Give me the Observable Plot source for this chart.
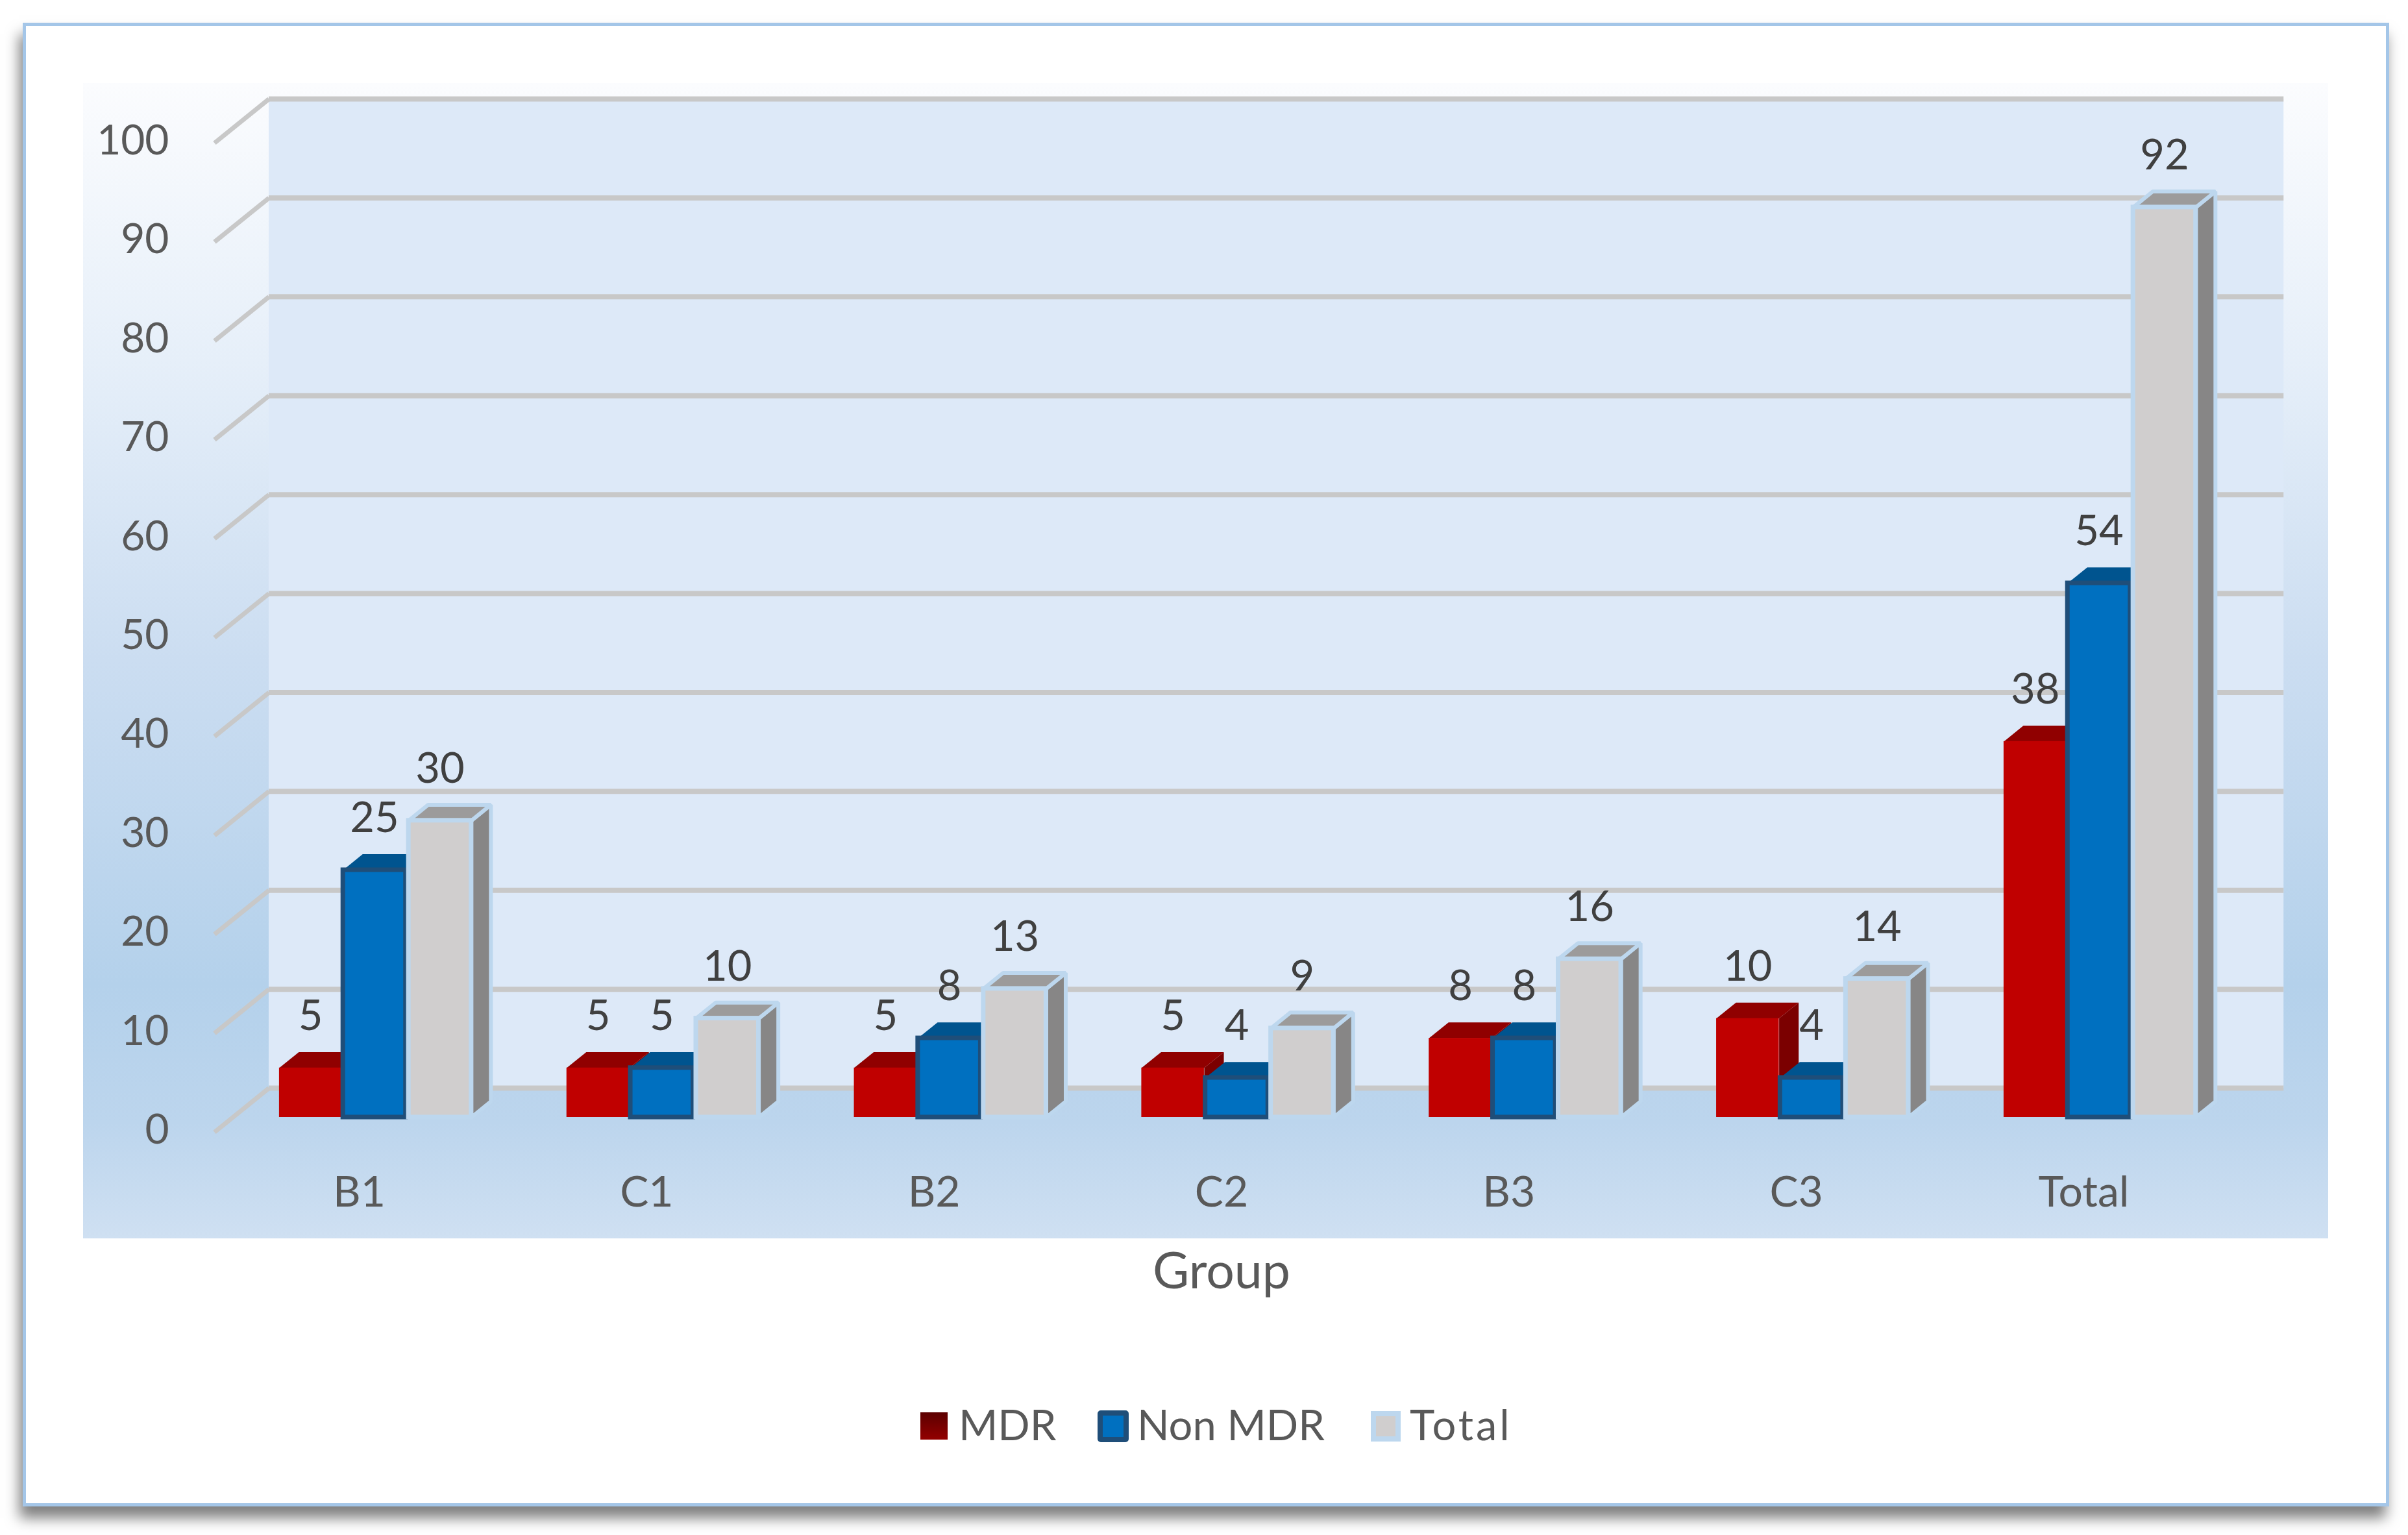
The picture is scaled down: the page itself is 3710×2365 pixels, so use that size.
<!DOCTYPE html>
<html>
<head>
<meta charset="utf-8">
<script src="https://cdn.jsdelivr.net/npm/d3@7"></script>
<script src="https://cdn.jsdelivr.net/npm/@observablehq/plot@0.6"></script>
<style>
  html,body{margin:0;padding:0;background:#fff;}
  #page{position:relative;width:3710px;height:2365px;overflow:hidden;font-family:Lato,sans-serif;}
  #card{position:absolute;left:35px;top:35px;width:3636px;height:2276px;background:#fff;border:5px solid #a4c6e8;
    box-shadow:-5px 18px 20px rgba(0,0,0,.5);}
  #panel{position:absolute;left:128px;top:128px;width:3459px;height:1780px;
    background:linear-gradient(180deg,#fbfcfe 0%,#e6eff9 24%,#cbddf1 50%,#b4d1eb 78%,#bcd5ed 90%,#cfe0f2 100%);}
  #chart{position:absolute;left:0;top:0;}
  .lg{position:absolute;top:2154px;font-size:65px;line-height:80px;color:#595959;white-space:nowrap;}
  .sw{position:absolute;box-sizing:border-box;}
</style>
</head>
<body>
<div id="page">
  <div id="card"></div>
  <div id="panel"></div>
  <div id="chart"></div>
  <div class="sw" style="left:1418px;top:2176px;width:42px;height:42px;background:linear-gradient(180deg,#5c0000,#930000);"></div>
  <div class="lg" id="lg0" style="left:1477px"></div>
  <div class="sw" style="left:1691px;top:2173px;width:48px;height:49px;background:#0070c0;border:8px solid #1f4e79;border-radius:5px;"></div>
  <div class="lg" id="lg1" style="left:1752px"></div>
  <div class="sw" style="left:2112px;top:2174px;width:46px;height:47px;background:#d0cece;border:8px solid #bdd7ee;"></div>
  <div class="lg" id="lg2" style="left:2172px;letter-spacing:4px"></div>
</div>
<script>
const categories = ["B1","C1","B2","C2","B3","C3","Total"];
const seriesNames = ["MDR","Non MDR","Total"];
const mdr = [5,5,5,5,8,10,38];
const nonMdr = [25,5,8,4,8,4,54];
const total = [30,10,13,9,16,14,92];
const yTicks = [0,10,20,30,40,50,60,70,80,90,100];

// look of each series, and the offset of its bar inside a group (in category units)
const seriesStyle = [
  {values:mdr,    start:-0.278, front:"#c00000", top:"#900000", side:"#7b0000", stroke:"none",    sw:0},
  {values:nonMdr, start:-0.056, front:"#0070c0", top:"#00548f", side:"#004a80", stroke:"#1f4e79", sw:7},
  {values:total,  start: 0.172, front:"#d0cece", top:"#9c9b9b", side:"#878686", stroke:"#bdd7ee", sw:7}
];
const barW = 0.218;
// oblique projection of the 3-D box, in scale units
const depthX = 0.068, depthY = 1.6;
const wallL = -0.314, wallR = 6.696, wallLift = 2.95;
const edgeL = -0.5036, edgeDrop = 1.5;

const marks = [];
// back wall
marks.push(Plot.rect([0],{x1:wallL,x2:wallR,y1:wallLift,y2:100+wallLift,fill:"#dde9f8"}));
// gridlines on the wall and on the left side
marks.push(Plot.ruleY(yTicks,{y:d=>d+wallLift,x1:wallL,x2:wallR,stroke:"#c8c8c8",strokeWidth:8}));
marks.push(Plot.link(yTicks,{x1:edgeL,x2:wallL,y1:d=>d-edgeDrop,y2:d=>d+wallLift,stroke:"#c8c8c8",strokeWidth:7,markerEnd:"none"}));
marks.push(Plot.axisY({ticks:yTicks,tickSize:0,tickPadding:293,dy:20,fontSize:64,label:null,fill:"#595959",fontFamily:"Lato"}));
marks.push(Plot.axisX({ticks:d3.range(categories.length),tickFormat:i=>categories[i],tickSize:0,tickPadding:91,fontSize:66,
  fill:"#595959",label:null,fontFamily:"Lato"}));
marks.push(Plot.axisX({ticks:[],label:"Group",labelAnchor:"center",labelArrow:"none",labelOffset:263,fontSize:77,
  fill:"#595959",fontFamily:"Lato"}));

// value labels lie underneath the bars
seriesStyle.forEach(s=>{
  const rows = s.values.map((v,i)=>({i,v}));
  marks.push(Plot.text(rows,{x:d=>d.i+s.start+barW/2,y:"v",text:d=>String(d.v),dy:-79,fontSize:65,fill:"#404040"}));
});
// boxes
seriesStyle.forEach((s,k)=>{
  const rows = s.values.map((v,i)=>({i,v}));
  const poly=(pts)=>rows.flatMap(d=>pts(d).map(([x,y])=>({id:d.i,x,y})));
  const L=d=>d.i+s.start, R=d=>d.i+s.start+barW;
  const side=poly(d=>[[R(d),0],[R(d)+depthX,depthY],[R(d)+depthX,d.v+depthY],[R(d),d.v],[R(d),0]]);
  const top=poly(d=>[[L(d),d.v],[L(d)+depthX,d.v+depthY],[R(d)+depthX,d.v+depthY],[R(d),d.v],[L(d),d.v]]);
  const lineStroke = k===2 ? s.stroke : "none";
  marks.push(Plot.line(side,{x:"x",y:"y",z:"id",fill:s.side,stroke:lineStroke,strokeWidth:k===2?6:0,strokeLinejoin:"miter"}));
  marks.push(Plot.line(top,{x:"x",y:"y",z:"id",fill:s.top,stroke:lineStroke,strokeWidth:k===2?6:0,strokeLinejoin:"miter"}));
  marks.push(Plot.rect(rows,{x1:L,x2:R,y1:0,y2:"v",fill:s.front,stroke:s.stroke,strokeWidth:s.sw}));
});

const chart = Plot.plot({
  width:3710,height:2365,
  marginLeft:553,marginRight:500,marginTop:197,marginBottom:644,
  x:{domain:[0,6]},
  y:{domain:[0,100]},
  style:{background:"transparent",fontFamily:"Lato",overflow:"visible"},
  marks
});
document.getElementById("chart").appendChild(chart);
seriesNames.forEach((n,i)=>{document.getElementById("lg"+i).textContent=n;});
</script>
</body>
</html>
